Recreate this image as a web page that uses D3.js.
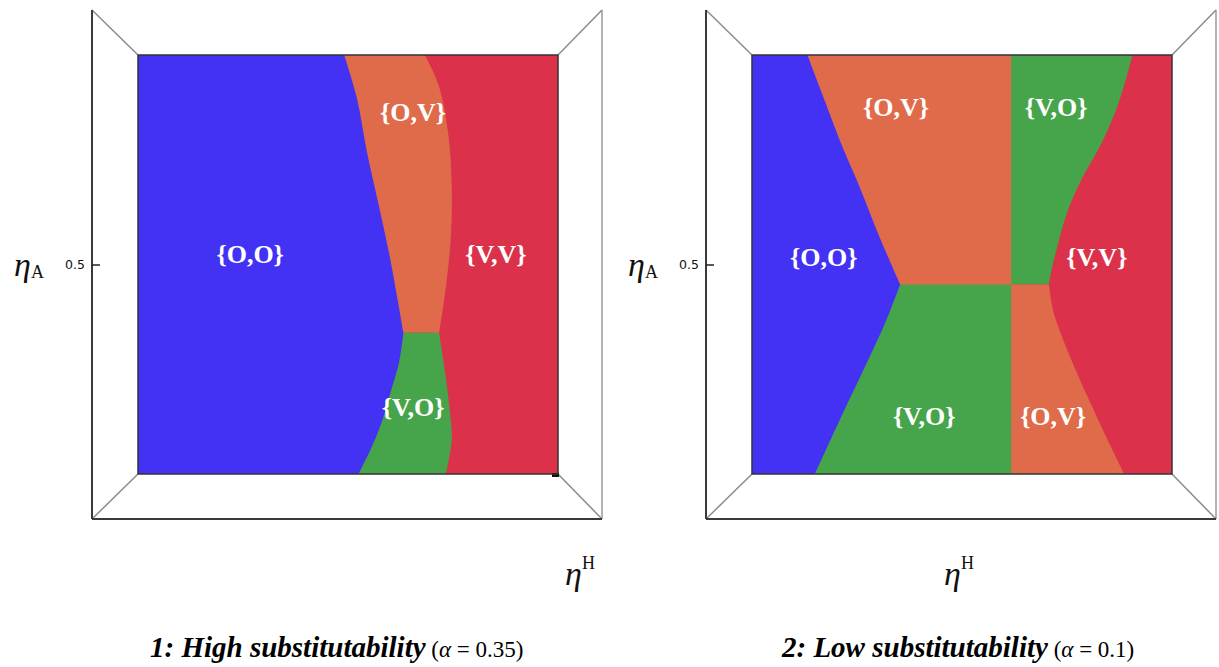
<!DOCTYPE html>
<html>
<head>
<meta charset="utf-8">
<script src="https://cdn.jsdelivr.net/npm/d3@7"></script>
<style>
  body { margin: 0; background: #fff; }
  svg { display: block; }
</style>
</head>
<body>
<div id="chart"></div>
<script>
// boundary curves, in data units (eta^H, eta_A), 0..1
var p1Left = [[0.491,1.0],[0.521,0.898],[0.545,0.769],[0.572,0.647],[0.598,0.526],[0.620,0.406],
  [0.632,0.337],[0.622,0.268],[0.604,0.204],[0.580,0.123],[0.554,0.059],[0.525,0.0]];
var p1Right = [[0.683,1.0],[0.715,0.930],[0.739,0.809],[0.747,0.687],[0.745,0.567],[0.733,0.446],
  [0.717,0.337],[0.731,0.244],[0.741,0.163],[0.747,0.083],[0.733,0.0]];
var p1Split = 0.337;

var p2Left = [[0.132,1.0],[0.174,0.889],[0.214,0.784],[0.255,0.688],[0.303,0.567],[0.353,0.452],
  [0.319,0.365],[0.271,0.260],[0.214,0.140],[0.150,0.0]];
var p2Right = [[0.906,1.0],[0.874,0.889],[0.834,0.793],[0.785,0.704],[0.753,0.631],[0.729,0.551],
  [0.713,0.486],[0.707,0.452],[0.717,0.390],[0.739,0.325],[0.769,0.252],[0.801,0.180],
  [0.842,0.091],[0.886,0.0]];
var p2Mid = 0.617;
var p2Split = 0.452;

var p1Labels = [["{O,O}",0.267,0.523],["{O,V}",0.655,0.862],["{V,V}",0.852,0.523],["{V,O}",0.655,0.160]];
var p2Labels = [["{O,V}",0.343,0.874],["{V,O}",0.724,0.874],["{O,O}",0.171,0.518],
  ["{V,V}",0.821,0.518],["{V,O}",0.410,0.138],["{O,V}",0.717,0.138]];

var yTicks = [0.5];
var captions = [["1: High substitutability", "0.35"], ["2: Low substitutability", "0.1"]];

var colors = {OO: "#4432f4", OV: "#df6b4a", VO: "#46a54b", VV: "#dc314b"};

var svg = d3.select("#chart").append("svg")
  .attr("width", 1219)
  .attr("height", 667);

// piece of a boundary between two heights
function part(curve, lo, hi) {
  return curve.filter(function(d) { return d[1] >= lo - 1e-9 && d[1] <= hi + 1e-9; });
}

function drawPanel(x0, outerL, outerR, draw, labels, caption, capX, xLabX) {
  var x = d3.scaleLinear().domain([0, 1]).range([x0, x0 + 420]);
  var y = d3.scaleLinear().domain([0, 1]).range([474, 55]);
  var smooth = d3.line().x(function(d) { return x(d[0]); }).y(function(d) { return y(d[1]); })
    .curve(d3.curveCatmullRom);
  // region left of a boundary between lo and hi, closed along the left edge.
  // the boundary is smoothed on each side of the kink, kept sharp at the kink
  function leftPath(curve, lo, hi, kink) {
    var d;
    if (kink != null && kink > lo && kink < hi) {
      d = smooth(part(curve, kink, hi)) + smooth(part(curve, lo, kink)).replace(/^M/, "L");
    } else {
      d = smooth(part(curve, lo, hi));
    }
    return d + "L" + x(0) + "," + y(lo) + "L" + x(0) + "," + y(hi) + "Z";
  }
  var g = svg.append("g");

  // frame of the 3d box seen from above
  var top = 10, bottom = 519;
  var frame = g.append("g").attr("fill", "none");
  frame.append("line").attr("x1", outerR).attr("y1", top).attr("x2", outerR).attr("y2", bottom)
    .attr("stroke", "#9a9a9a").attr("stroke-width", 1.5);
  [[outerL, top, x(0), y(1)], [outerR, top, x(1), y(1)], [outerL, bottom, x(0), y(0)], [outerR, bottom, x(1), y(0)]]
    .forEach(function(c) {
      frame.append("line").attr("x1", c[0]).attr("y1", c[1]).attr("x2", c[2]).attr("y2", c[3])
        .attr("stroke", "#8c8c8c").attr("stroke-width", 1.5);
    });
  frame.append("line").attr("x1", outerL).attr("y1", top).attr("x2", outerL).attr("y2", bottom)
    .attr("stroke", "#3a3a3a").attr("stroke-width", 2);
  frame.append("line").attr("x1", outerL).attr("y1", bottom).attr("x2", outerR).attr("y2", bottom)
    .attr("stroke", "#3a3a3a").attr("stroke-width", 2);

  // regions
  var regions = g.append("g");
  draw(regions, x, y, leftPath);

  regions.append("rect")
    .attr("x", x(0)).attr("y", y(1))
    .attr("width", x(1) - x(0)).attr("height", y(0) - y(1))
    .attr("fill", "none").attr("stroke", "#333").attr("stroke-width", 1.5);

  g.selectAll("text.lab").data(labels).enter().append("text")
    .attr("class", "lab")
    .attr("x", function(d) { return x(d[1]); })
    .attr("y", function(d) { return y(d[2]); })
    .attr("dy", "0.33em")
    .attr("text-anchor", "middle")
    .attr("fill", "#fff")
    .style("font-family", "'Liberation Serif', 'Times New Roman', serif")
    .style("font-weight", "bold")
    .style("font-size", "26px")
    .text(function(d) { return d[0]; });

  // y axis: one tick on the outer edge
  var axis = g.append("g")
    .attr("transform", "translate(" + outerL + ",0)")
    .call(d3.axisLeft(y).tickValues(yTicks).tickSize(-8).tickPadding(7).tickFormat(d3.format(".1f")));
  axis.select(".domain").remove();
  axis.selectAll(".tick line").attr("stroke", "#222").attr("stroke-width", 1.5);
  axis.selectAll(".tick text")
    .style("font-family", "'DejaVu Sans', sans-serif")
    .style("font-size", "12.5px")
    .attr("fill", "#111");

  var yl = g.append("text")
    .attr("x", outerL - 78).attr("y", y(0.5) + 11)
    .style("font-family", "'Liberation Serif', serif")
    .attr("fill", "#111");
  yl.append("tspan").style("font-style", "italic").style("font-size", "34px").text("η");
  yl.append("tspan").attr("dy", 2).style("font-size", "18px").text("A");

  var xl = g.append("text")
    .attr("x", xLabX).attr("y", 585)
    .style("font-family", "'Liberation Serif', serif")
    .attr("fill", "#111");
  xl.append("tspan").style("font-style", "italic").style("font-size", "34px").text("η");
  xl.append("tspan").attr("dy", -16).style("font-size", "18px").text("H");

  var cap = g.append("text")
    .attr("x", capX).attr("y", 657)
    .style("font-family", "'Liberation Serif', 'Times New Roman', serif")
    .attr("fill", "#000");
  cap.append("tspan").style("font-weight", "bold").style("font-style", "italic").style("font-size", "29px")
    .text(caption[0]);
  cap.append("tspan").style("font-size", "23px").text(" (");
  cap.append("tspan").style("font-size", "23px").style("font-style", "italic").text("α");
  cap.append("tspan").style("font-size", "23px").text(" = " + caption[1] + ")");
}

drawPanel(138, 92, 602, function(r, x, y, leftPath) {
  r.append("rect").attr("x", x(0)).attr("y", y(1)).attr("width", x(1) - x(0)).attr("height", y(0) - y(1))
    .attr("fill", colors.VV);
  r.append("path").attr("d", leftPath(p1Right, p1Split, 1)).attr("fill", colors.OV);
  r.append("path").attr("d", leftPath(p1Right, 0, p1Split)).attr("fill", colors.VO);
  r.append("path").attr("d", leftPath(p1Left, 0, 1, p1Split)).attr("fill", colors.OO);
  // small dark notch at the lower right corner
  r.append("rect").attr("x", x(1) - 6).attr("y", y(0) - 1).attr("width", 7).attr("height", 4).attr("fill", "#111");
}, p1Labels, captions[0], 150, 565);

drawPanel(752, 706, 1216, function(r, x, y, leftPath) {
  r.append("rect").attr("x", x(0)).attr("y", y(1)).attr("width", x(1) - x(0)).attr("height", y(0) - y(1))
    .attr("fill", colors.VV);
  r.append("path").attr("d", leftPath(p2Right, p2Split, 1)).attr("fill", colors.VO);
  r.append("path").attr("d", leftPath(p2Right, 0, p2Split)).attr("fill", colors.OV);
  r.append("rect").attr("x", x(0)).attr("y", y(1)).attr("width", x(p2Mid) - x(0)).attr("height", y(p2Split) - y(1))
    .attr("fill", colors.OV);
  r.append("rect").attr("x", x(0)).attr("y", y(p2Split)).attr("width", x(p2Mid) - x(0)).attr("height", y(0) - y(p2Split))
    .attr("fill", colors.VO);
  r.append("path").attr("d", leftPath(p2Left, 0, 1, p2Split)).attr("fill", colors.OO);
}, p2Labels, captions[1], 782, 944);
</script>
</body>
</html>
